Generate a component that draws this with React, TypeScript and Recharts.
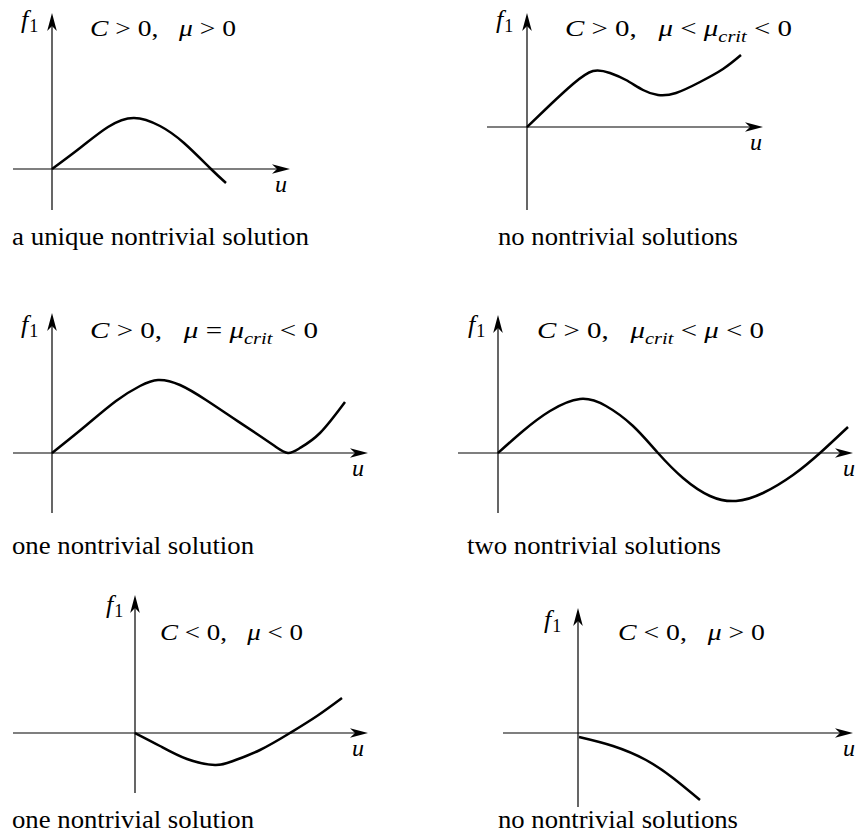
import React from "react";
import { LineChart, Line, XAxis, YAxis, ReferenceLine } from "recharts";

// curve samples (1 unit ~ 10px)
const uniqueU = [0, 2.8, 5.6, 8.2, 10.8, 13.2, 15.9, 17.4];
const uniqueF = [0, 2.1, 4.2, 5.1, 4.3, 2.6, 0, -1.4];

const belowCritU = [0, 2.3, 4.6, 6.6, 8.3, 9.9, 11.6, 13.1, 14.9, 17.3, 19.6, 21.4];
const belowCritF = [0, 2.2, 4.3, 5.6, 5.4, 4.7, 3.7, 3.2, 3.4, 4.5, 5.8, 7.2];

const atCritU = [0, 3.1, 6.4, 8.8, 10.6, 12.8, 15.4, 18.1, 20.8, 22.4, 23.6, 24.8, 26.8, 29.3];
const atCritF = [0, 2.5, 5.2, 6.7, 7.3, 6.8, 5.3, 3.5, 1.7, 0.6, 0, 0.5, 2.0, 5.1];

const aboveCritU = [0, 2.5, 5.2, 8.2, 10.8, 13.5, 16, 18.5, 21.2, 23.8, 26.5, 29.5, 32.2, 35];
const aboveCritF = [0, 2.2, 4.2, 5.4, 4.7, 2.7, 0, -2.5, -4.3, -4.8, -4.0, -2.2, 0, 2.6];

const negCNegMuU = [0, 2.5, 5.2, 8, 9.8, 12.5, 15.5, 18.2, 20.7];
const negCNegMuF = [0, -1.3, -2.6, -3.2, -2.8, -1.7, 0, 1.7, 3.5];

const negCPosMuU = [0.1, 3.5, 6.8, 9.5, 12.2];
const negCPosMuF = [-0.4, -1.3, -2.7, -4.5, -6.7];

const captions = [
  "a unique nontrivial solution",
  "no nontrivial solutions",
  "one nontrivial solution",
  "two nontrivial solutions",
  "one nontrivial solution",
  "no nontrivial solutions",
];

const toRows = (u: number[], f: number[]) => u.map((v, i) => ({ u: v, f: f[i] }));

const FONT = '"Liberation Serif", "DejaVu Serif", serif';

const arrowH = (p: any) => {
  const xa = Math.min(p.x1, p.x2);
  const xb = Math.max(p.x1, p.x2);
  const y = p.y1;
  return (
    <g>
      <line x1={xa} y1={y} x2={xb - 12} y2={y} stroke="#000" strokeWidth={1.2} />
      <path d={`M${xb},${y} L${xb - 18},${y - 4.8} L${xb - 13},${y} L${xb - 18},${y + 4.8} Z`} fill="#000" />
    </g>
  );
};

const arrowV = (p: any) => {
  const ya = Math.max(p.y1, p.y2);
  const yb = Math.min(p.y1, p.y2);
  const x = p.x1;
  return (
    <g>
      <line x1={x} y1={ya} x2={x} y2={yb + 12} stroke="#000" strokeWidth={1.2} />
      <path d={`M${x},${yb} L${x - 4.8},${yb + 18} L${x},${yb + 13} L${x + 4.8},${yb + 18} Z`} fill="#000" />
    </g>
  );
};

function Panel({ left, top, width, height, xDomain, yDomain, data }: any) {
  return (
    <div style={{ position: "absolute", left, top }}>
      <LineChart width={width} height={height} data={data} margin={{ top: 0, right: 0, bottom: 0, left: 0 }}>
        <XAxis type="number" dataKey="u" domain={xDomain} hide allowDataOverflow />
        <YAxis type="number" domain={yDomain} hide allowDataOverflow />
        <ReferenceLine y={0} shape={arrowH} />
        <ReferenceLine x={0} shape={arrowV} />
        <Line
          dataKey="f"
          type="natural"
          stroke="#000"
          strokeWidth={2.5}
          dot={false}
          isAnimationActive={false}
        />
      </LineChart>
    </div>
  );
}

type Part = { t: string; it?: boolean; sub?: boolean };

const gt = (c: string): Part[] => [{ t: c === "<" ? " < 0,   " : " > 0,   " }];

const titles: { x: number; y: number; w: number; parts: Part[] }[] = [
  { x: 90, y: 36, w: 146, parts: [{ t: "C", it: true }, ...gt(">"), { t: "μ", it: true }, { t: " > 0" }] },
  {
    x: 565, y: 36, w: 227,
    parts: [{ t: "C", it: true }, ...gt(">"), { t: "μ", it: true }, { t: " < " }, { t: "μ", it: true }, { t: "crit", it: true, sub: true }, { t: " < 0" }],
  },
  {
    x: 90, y: 338, w: 228,
    parts: [{ t: "C", it: true }, ...gt(">"), { t: "μ", it: true }, { t: " = " }, { t: "μ", it: true }, { t: "crit", it: true, sub: true }, { t: " < 0" }],
  },
  {
    x: 537, y: 338, w: 227,
    parts: [{ t: "C", it: true }, ...gt(">"), { t: "μ", it: true }, { t: "crit", it: true, sub: true }, { t: " < " }, { t: "μ", it: true }, { t: " < 0" }],
  },
  { x: 160, y: 640, w: 143, parts: [{ t: "C", it: true }, ...gt("<"), { t: "μ", it: true }, { t: " < 0" }] },
  { x: 618, y: 640, w: 147, parts: [{ t: "C", it: true }, ...gt("<"), { t: "μ", it: true }, { t: " > 0" }] },
];

const capPos = [
  { x: 12, y: 245, w: 297 },
  { x: 498, y: 245, w: 240 },
  { x: 12, y: 554, w: 242 },
  { x: 467, y: 554, w: 254 },
  { x: 12, y: 828, w: 242 },
  { x: 498, y: 828, w: 240 },
];

const fPos = [
  { x: 21, y: 28 },
  { x: 496, y: 28 },
  { x: 21, y: 333 },
  { x: 468, y: 333 },
  { x: 106, y: 613 },
  { x: 544, y: 628 },
];

const uPos = [
  { x: 275, y: 192 },
  { x: 750, y: 150 },
  { x: 352, y: 476 },
  { x: 843, y: 476 },
  { x: 352, y: 756 },
  { x: 843, y: 756 },
];

function MathText({ x, y, w, parts }: { x: number; y: number; w: number; parts: Part[] }) {
  let shifted = false;
  return (
    <text x={x} y={y} fontSize={24} textLength={w} lengthAdjust="spacingAndGlyphs" xmlSpace="preserve" style={{ whiteSpace: "pre", fontFamily: FONT }}>
      {parts.map((p, i) => {
        let dy = 0;
        if (p.sub && !shifted) { dy = 6; shifted = true; }
        else if (!p.sub && shifted) { dy = -6; shifted = false; }
        return (
          <tspan key={i} dy={dy} fontStyle={p.it ? "italic" : "normal"} fontSize={p.sub ? 17 : 24}>
            {p.t}
          </tspan>
        );
      })}
    </text>
  );
}

export default function App() {
  const panels = [
    { left: 13, top: 13, width: 277, height: 197, xDomain: [-3.9, 23.8], yDomain: [-4.1, 15.6], data: toRows(uniqueU, uniqueF) },
    { left: 487, top: 13, width: 276, height: 197, xDomain: [-4.0, 23.6], yDomain: [-8.3, 11.4], data: toRows(belowCritU, belowCritF) },
    { left: 13, top: 313, width: 355, height: 200, xDomain: [-3.9, 31.6], yDomain: [-6.0, 14.0], data: toRows(atCritU, atCritF) },
    { left: 458, top: 315, width: 395, height: 198, xDomain: [-4.0, 35.5], yDomain: [-6.0, 13.8], data: toRows(aboveCritU, aboveCritF) },
    { left: 13, top: 595, width: 355, height: 198, xDomain: [-12.2, 23.3], yDomain: [-6.0, 13.8], data: toRows(negCNegMuU, negCNegMuF) },
    { left: 503, top: 608, width: 350, height: 199, xDomain: [-7.5, 27.5], yDomain: [-7.4, 12.5], data: toRows(negCPosMuU, negCPosMuF) },
  ];
  return (
    <div style={{ position: "absolute", left: 0, top: 0, width: 855, height: 837, background: "#fff", overflow: "hidden" }}>
      {panels.map((p, i) => (
        <Panel key={i} {...p} />
      ))}
      <svg width={855} height={837} style={{ position: "absolute", left: 0, top: 0, pointerEvents: "none", fontFamily: FONT }}>
        {titles.map((t, i) => (
          <MathText key={"t" + i} {...t} />
        ))}
        {captions.map((c, i) => (
          <text key={"c" + i} x={capPos[i].x} y={capPos[i].y} fontSize={25} textLength={capPos[i].w} lengthAdjust="spacingAndGlyphs" style={{ fontFamily: FONT }}>
            {c}
          </text>
        ))}
        {fPos.map((p, i) => (
          <text key={"f" + i} x={p.x} y={p.y} fontSize={26} style={{ fontFamily: FONT }}>
            <tspan fontStyle="italic">f</tspan>
            <tspan dx={1} dy={4} fontSize={18}>1</tspan>
          </text>
        ))}
        {uPos.map((p, i) => (
          <text key={"u" + i} x={p.x} y={p.y} fontSize={24} fontStyle="italic" style={{ fontFamily: FONT }}>
            u
          </text>
        ))}
      </svg>
    </div>
  );
}
